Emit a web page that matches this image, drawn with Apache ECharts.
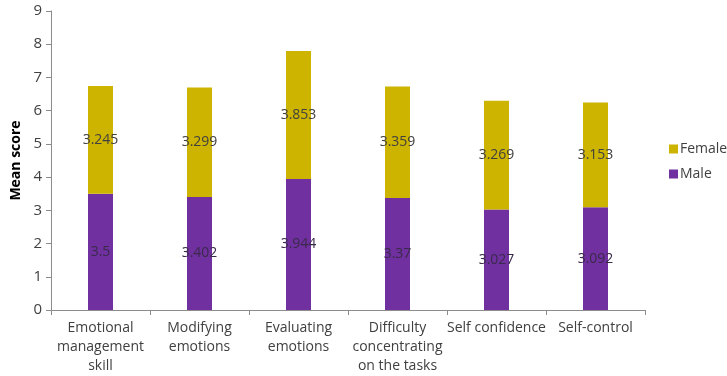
<!DOCTYPE html>
<html>
<head>
<meta charset="utf-8">
<script src="https://cdn.jsdelivr.net/npm/echarts@6/dist/echarts.min.js"></script>
<style>
  html, body { margin: 0; padding: 0; background: #fff; }
  #chart { width: 727px; height: 376px; }
</style>
</head>
<body>
<div id="chart"></div>
<script>
// Mean scores by dimension, split by gender (stacked)
const categories = [
  'Emotional\nmanagement\nskill',
  'Modifying\nemotions',
  'Evaluating\nemotions',
  'Difficulty\nconcentrating\non the tasks',
  'Self confidence',
  'Self-control'
];
const maleScores = [3.5, 3.402, 3.944, 3.37, 3.027, 3.092];
const femaleScores = [3.245, 3.299, 3.853, 3.359, 3.269, 3.153];
const yTicks = [0, 1, 2, 3, 4, 5, 6, 7, 8, 9];

const FONT = '"Open Sans", "Noto Sans", sans-serif';
const axisColor = '#8c8c8c';
const textColor = '#404040';

const chart = echarts.init(document.getElementById('chart'));
chart.setOption({
  animation: false,
  backgroundColor: '#ffffff',
  textStyle: { fontFamily: FONT },
  grid: { left: 51, right: 82, top: 11, bottom: 66, containLabel: false },
  legend: {
    orient: 'vertical',
    left: 664,
    top: 137,
    itemWidth: 9,
    itemHeight: 9,
    itemGap: 11,
    icon: 'rect',
    data: ['Female', 'Male'],
    textStyle: { fontFamily: FONT, fontSize: 14, color: textColor, padding: [0, 0, 0, -3] }
  },
  xAxis: {
    type: 'category',
    data: categories,
    axisLine: { lineStyle: { color: axisColor, width: 1 } },
    axisTick: { show: true, alignWithLabel: false, length: 5, lineStyle: { color: axisColor } },
    axisLabel: {
      interval: 0,
      margin: 9,
      fontFamily: FONT,
      fontSize: 14,
      lineHeight: 19,
      color: textColor
    }
  },
  yAxis: {
    type: 'value',
    min: yTicks[0],
    max: yTicks[yTicks.length - 1],
    interval: 1,
    name: 'Mean score',
    nameLocation: 'middle',
    nameGap: 26,
    nameRotate: 90,
    nameTextStyle: { fontFamily: FONT, fontSize: 14, fontWeight: 'bold', color: '#000' },
    axisLine: { show: true, lineStyle: { color: axisColor, width: 1 } },
    axisTick: { show: true, length: 5, lineStyle: { color: axisColor } },
    splitLine: { show: false },
    axisLabel: { fontFamily: FONT, fontSize: 15, color: '#404040', margin: 9 }
  },
  series: [
    {
      name: 'Male',
      type: 'bar',
      stack: 'score',
      barWidth: 25,
      data: maleScores,
      itemStyle: { color: '#7030a0' },
      label: {
        show: true,
        position: 'inside',
        fontFamily: FONT,
        fontSize: 14,
        color: '#3a2a4a',
        formatter: p => String(p.value)
      }
    },
    {
      name: 'Female',
      type: 'bar',
      stack: 'score',
      barWidth: 25,
      data: femaleScores,
      itemStyle: { color: '#cdb400' },
      label: {
        show: true,
        position: 'inside',
        fontFamily: FONT,
        fontSize: 14,
        color: '#404040',
        formatter: p => String(p.value)
      }
    }
  ]
});
</script>
</body>
</html>
